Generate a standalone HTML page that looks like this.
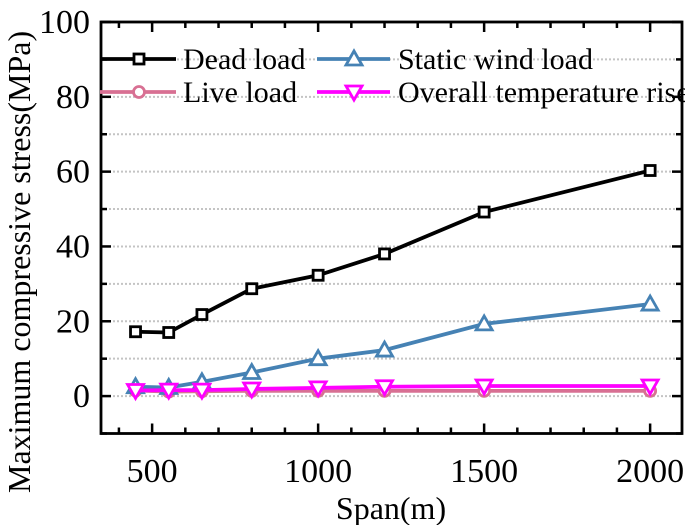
<!DOCTYPE html>
<html><head><meta charset="utf-8"><style>
html,body{margin:0;padding:0;background:#fff;}
svg{display:block;}
svg text{font-family:"Liberation Serif","Times New Roman",serif;}
</style></head><body>
<svg id="chart" width="685" height="525" viewBox="0 0 685 525">
<g id="grid"></g>
<g id="axes"></g>
<g id="series"></g>
<g id="legend"></g>
<text transform="translate(30,493) rotate(-90)" font-family="Liberation Serif, serif" font-size="32" fill="#000">Maximum compressive stress(MPa)</text>
<text x="391" y="519" font-family="Liberation Serif, serif" font-size="32" text-anchor="middle" fill="#000">Span(m)</text>
</svg>
<script>
const spans = [450, 550, 650, 800, 1000, 1200, 1500, 2000];
const deadLoad = [17.2, 17.0, 21.8, 28.7, 32.3, 38.0, 49.2, 60.3];
const windLoad = [2.5, 2.3, 3.8, 6.3, 10.0, 12.3, 19.3, 24.6];
const liveLoad = [1.5, 1.2, 1.3, 1.4, 1.4, 1.4, 1.4, 1.4];
const tempRise = [1.5, 1.6, 1.6, 1.9, 2.2, 2.5, 2.7, 2.7];
const xTicks = [500, 1000, 1500, 2000];
const yTicks = [0, 20, 40, 60, 80, 100];

const NS = "http://www.w3.org/2000/svg";
const FF = "Liberation Serif, serif";
const L = 101, R = 682, T = 22, B = 433.5;
const xMin = 346, xMax = 2096, yMin = -10, yMax = 100;
function sx(v){ return L + (v - xMin) / (xMax - xMin) * (R - L); }
function sy(v){ return B - (v - yMin) / (yMax - yMin) * (B - T); }
function mk(tag, attrs, parent){ const e = document.createElementNS(NS, tag); for (const k in attrs) e.setAttribute(k, attrs[k]); parent.appendChild(e); return e; }

const grid = document.getElementById('grid');
const axes = document.getElementById('axes');
for (let v = 0; v <= 90; v += 10) {
  const g = mk('line', {x1: L, x2: R, y1: sy(v), y2: sy(v), stroke: '#c4c4c4', 'stroke-width': 2, 'stroke-dasharray': '2,2'}, grid);
  
  
}
for (let v = -10; v <= 100; v += 10) {
  const len = (v % 20 === 0) ? 10 : 6;
  mk('line', {x1: L, x2: L + len, y1: sy(v), y2: sy(v), stroke: '#000', 'stroke-width': 2.5}, axes);
  mk('line', {x1: R, x2: R - len, y1: sy(v), y2: sy(v), stroke: '#000', 'stroke-width': 2.5}, axes);
}
for (let v = 400; v <= 2000; v += 100) {
  const len = (v % 500 === 0) ? 10 : 6;
  mk('line', {x1: sx(v), x2: sx(v), y1: B, y2: B - len, stroke: '#000', 'stroke-width': 2.5}, axes);
  mk('line', {x1: sx(v), x2: sx(v), y1: T, y2: T + len, stroke: '#000', 'stroke-width': 2.5}, axes);
}
const frame = mk('rect', {x: L, y: T, width: R - L, height: B - T, fill: 'none', stroke: '#000', 'stroke-width': 2.8}, axes);


yTicks.forEach(v => {
  const t = mk('text', {x: 90, y: sy(v) + 11, 'text-anchor': 'end', 'font-family': FF, 'font-size': 34, fill: '#000'}, axes);
  t.textContent = v;
  
  
});
xTicks.forEach(v => {
  const t = mk('text', {x: sx(v), y: 482, 'text-anchor': 'middle', 'font-family': FF, 'font-size': 34, fill: '#000'}, axes);
  t.textContent = v;
  
  
});

function marker(type, x, y, color, parent){
  let e;
  if (type === 'square') e = mk('rect', {x: x - 5, y: y - 5, width: 10, height: 10, fill: '#fff', stroke: color, 'stroke-width': 2.8}, parent);
  else if (type === 'circle') e = mk('circle', {cx: x, cy: y, r: 5.5, fill: '#fff', stroke: color, 'stroke-width': 2.8}, parent);
  else if (type === 'up') e = mk('polygon', {points: `${x},${y-8} ${x-8},${y+6} ${x+8},${y+6}`, fill: '#fff', stroke: color, 'stroke-width': 2.8}, parent);
  else e = mk('polygon', {points: `${x},${y+8} ${x-8},${y-6} ${x+8},${y-6}`, fill: '#fff', stroke: color, 'stroke-width': 2.8}, parent);
  return e;
}
const seriesG = document.getElementById('series');
const defs = [
  {name: 'live-load', data: liveLoad, color: '#d87093', m: 'circle'},
  {name: 'static-wind-load', data: windLoad, color: '#4682b4', m: 'up'},
  {name: 'dead-load', data: deadLoad, color: '#000000', m: 'square'},
  {name: 'overall-temperature-rise', data: tempRise, color: '#ff00ff', m: 'down'}
];
defs.forEach(s => {
  const g = mk('g', {}, seriesG);
  
  
  const pts = spans.map((x, i) => sx(x) + ',' + sy(s.data[i])).join(' ');
  const pl = mk('polyline', {points: pts, fill: 'none', stroke: s.color, 'stroke-width': 3.8}, g);
  
  
  spans.forEach((x, i) => {
    const m = marker(s.m, sx(x), sy(s.data[i]), s.color, g);
    
    
  });
});

const leg = document.getElementById('legend');
const entries = [
  {label: 'Dead load', color: '#000', m: 'square', x1: 100, x2: 176, mx: 139, tx: 183, y: 59},
  {label: 'Static wind load', color: '#4682b4', m: 'up', x1: 317, x2: 390, mx: 354, tx: 398, y: 59},
  {label: 'Live load', color: '#d87093', m: 'circle', x1: 100, x2: 176, mx: 139, tx: 183, y: 92},
  {label: 'Overall temperature rise', color: '#ff00ff', m: 'down', x1: 317, x2: 390, mx: 354, tx: 398, y: 92}
];
entries.forEach(e => {
  const g = mk('g', {}, leg);
  
  
  mk('line', {x1: e.x1, x2: e.x2, y1: e.y, y2: e.y, stroke: e.color, 'stroke-width': 3.8}, g);
  marker(e.m, e.mx, e.y, e.color, g);
  const t = mk('text', {x: e.tx, y: e.y + 10, 'font-family': FF, 'font-size': 30, fill: '#000'}, g);
  t.textContent = e.label;
});
</script>
</body></html>
